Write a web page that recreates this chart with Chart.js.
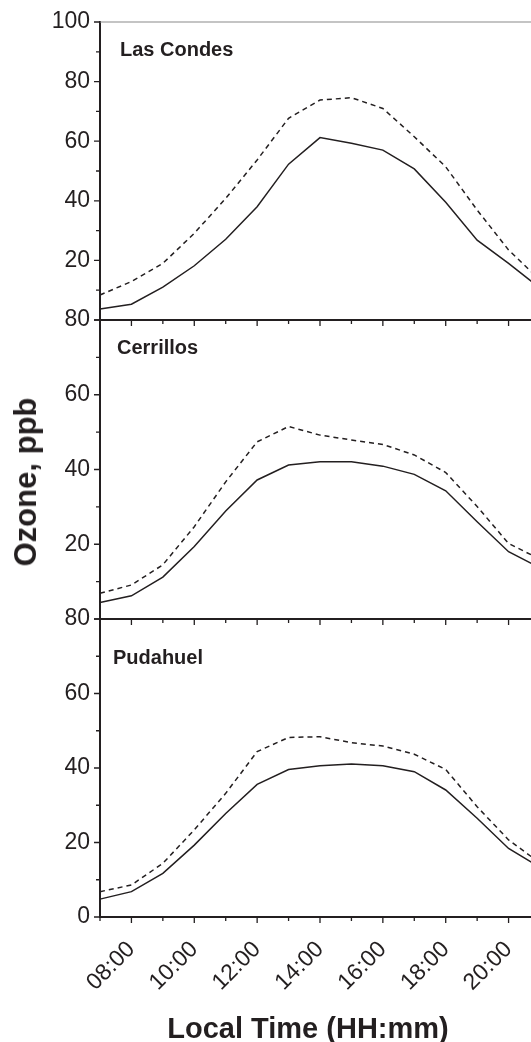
<!DOCTYPE html>
<html>
<head>
<meta charset="utf-8">
<script src="https://cdn.jsdelivr.net/npm/chart.js@4.4.1/dist/chart.umd.min.js"></script>
<style>
  html, body { margin: 0; padding: 0; overflow: hidden; background: #fff; }
  #wrap { position: relative; width: 531px; height: 1042px; overflow: hidden; }
  canvas { position: absolute; left: 0; }
  .title { position: absolute; font-family: "Liberation Sans", Arial, sans-serif; font-weight: bold; color: #231f20; white-space: nowrap; }
</style>
</head>
<body>
<div id="wrap">
  <canvas id="c1" width="545" height="330" style="top:0px"></canvas>
  <canvas id="c2" width="545" height="329" style="top:300px"></canvas>
  <canvas id="c3" width="545" height="443" style="top:599px"></canvas>
  <div class="title" id="ytitle" style="font-size:31px; line-height:36px; left:26px; top:482px; transform: translate(-50%, -50%) rotate(-90deg);">Ozone, ppb</div>
  <div class="title" id="xtitle" style="font-size:29px; line-height:29px; left:308px; top:1014px; transform: translateX(-50%);">Local Time (HH:mm)</div>
</div>
<script>
const hours = ["07:00", "08:00", "09:00", "10:00", "11:00", "12:00", "13:00", "14:00",
               "15:00", "16:00", "17:00", "18:00", "19:00", "20:00", "21:00"];

// Las Condes
const lasCondesSolid  = [3.7, 5.3, 11.0, 18.2, 27.1, 38.0, 52.3, 61.2, 59.3, 57.0, 50.7, 39.5, 26.8, 19.0, 10.7];
const lasCondesDashed = [8.4, 12.9, 19.0, 29.1, 40.8, 53.7, 67.7, 73.8, 74.6, 71.0, 61.5, 51.4, 36.9, 23.5, 13.4];
// Cerrillos
const cerrillosSolid  = [4.4, 6.2, 11.2, 19.4, 28.9, 37.2, 41.2, 42.1, 42.1, 40.9, 38.7, 34.3, 26.0, 18.0, 13.7];
const cerrillosDashed = [6.9, 9.1, 14.5, 24.7, 36.7, 47.4, 51.5, 49.2, 47.9, 46.7, 43.9, 39.2, 30.1, 20.2, 16.0];
// Pudahuel
const pudahuelSolid   = [4.8, 6.8, 11.7, 19.3, 27.8, 35.6, 39.6, 40.6, 41.1, 40.6, 39.0, 34.1, 26.5, 18.4, 13.3];
const pudahuelDashed  = [6.8, 8.6, 14.4, 23.4, 33.2, 44.4, 48.2, 48.4, 46.8, 45.9, 43.7, 39.6, 29.6, 20.7, 14.5];

const ink = "#231f20";
const family = '"Liberation Sans", Arial, sans-serif';

// tick marks (major/minor), top frame line and station name
const frame = {
  id: "frame",
  afterDraw(chart, args, opts) {
    const { ctx, chartArea: a, scales: { x, y } } = chart;
    ctx.save();
    ctx.strokeStyle = ink;
    ctx.lineWidth = 1.3;
    ctx.beginPath();
    hours.forEach((h, i) => {
      const px = x.getPixelForValue(i);
      const len = i % 2 ? 6 : 4;
      ctx.moveTo(px, a.bottom);
      ctx.lineTo(px, a.bottom + len);
    });
    for (let v = 0; v <= y.max; v += 10) {
      const py = y.getPixelForValue(v);
      const len = v % 20 === 0 ? 6 : 4;
      ctx.moveTo(a.left - len, py);
      ctx.lineTo(a.left, py);
    }
    ctx.stroke();
    if (opts.top) {
      ctx.strokeStyle = "#8a8a8a";
      ctx.lineWidth = 1.2;
      ctx.beginPath();
      ctx.moveTo(a.left, a.top);
      ctx.lineTo(a.right, a.top);
      ctx.stroke();
    }
    ctx.fillStyle = ink;
    ctx.font = "bold 20px " + family;
    ctx.textBaseline = "alphabetic";
    ctx.fillText(opts.name, a.left + opts.dx, a.top + opts.dy);
    ctx.restore();
  }
};

function makeChart(id, p) {
  return new Chart(document.getElementById(id), {
    type: "line",
    data: {
      labels: hours,
      datasets: [
        { label: "solid", data: p.solid, borderColor: ink, borderWidth: 1.5, pointRadius: 0, tension: 0 },
        { label: "dashed", data: p.dashed, borderColor: ink, borderWidth: 1.5, borderDash: [5, 4], pointRadius: 0, tension: 0 }
      ]
    },
    options: {
      responsive: false,
      animation: false,
      devicePixelRatio: 1,
      layout: { padding: { top: p.padTop, right: 5, left: 0, bottom: 0 } },
      plugins: {
        legend: { display: false },
        tooltip: { enabled: false },
        frame: { name: p.name, dx: p.dx, dy: p.dy, top: p.top }
      },
      scales: {
        x: {
          type: "category",
          grid: { display: false },
          border: { color: ink, width: 2 },
          ticks: {
            display: p.showX,
            autoSkip: false,
            maxRotation: 45,
            minRotation: 45,
            padding: 11,
            color: ink,
            font: { size: 23, family },
            callback: (v, i) => (i % 2 ? hours[i] : "")
          },
          afterFit: s => { s.height = p.xHeight; s.paddingLeft = 0; s.paddingRight = 0; }
        },
        y: {
          min: 0,
          max: p.max,
          grid: { display: false },
          border: { color: ink, width: 2 },
          ticks: {
            stepSize: 10,
            padding: 2,
            color: ink,
            font: { size: 23, family },
            callback: v => (v % 20 === 0 && v >= p.minLabel ? v : "")
          },
          afterFit: s => { s.width = 100; s.paddingTop = 0; s.paddingBottom = 0; }
        }
      }
    },
    plugins: [frame]
  });
}

makeChart("c1", { solid: lasCondesSolid, dashed: lasCondesDashed, max: 100, minLabel: 20,
  padTop: 22, xHeight: 10, showX: false, name: "Las Condes", dx: 20, dy: 34, top: true });
makeChart("c2", { solid: cerrillosSolid, dashed: cerrillosDashed, max: 80, minLabel: 20,
  padTop: 20, xHeight: 10, showX: false, name: "Cerrillos", dx: 17, dy: 34, top: false });
makeChart("c3", { solid: pudahuelSolid, dashed: pudahuelDashed, max: 80, minLabel: 0,
  padTop: 20, xHeight: 125, showX: true, name: "Pudahuel", dx: 13, dy: 45, top: false });
</script>
</body>
</html>
